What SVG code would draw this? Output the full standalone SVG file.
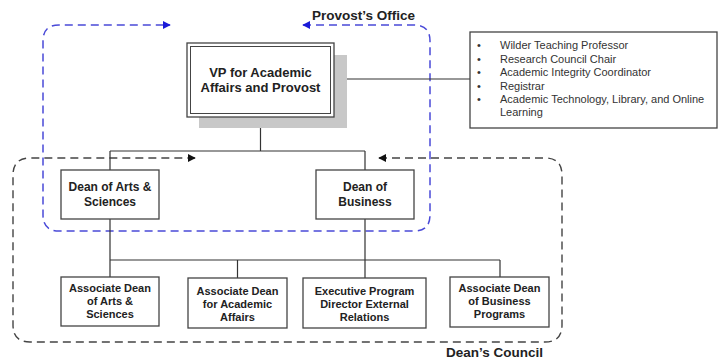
<svg xmlns="http://www.w3.org/2000/svg" width="721" height="360" viewBox="0 0 721 360">
<style>
  .box { fill: #fff; stroke: #444; stroke-width: 1.3; }
  .t { font-family: "Liberation Sans", Arial, sans-serif; font-weight: bold; fill: #222; text-anchor: middle; }
  .lst { font-family: "Liberation Sans", Arial, sans-serif; font-size: 11px; fill: #333; }
  .conn { fill: none; stroke: #333; stroke-width: 1.2; }
  .blue { fill: none; stroke: #4a4ad8; stroke-width: 1.5; stroke-dasharray: 8 5; }
  .black { fill: none; stroke: #444; stroke-width: 1.4; stroke-dasharray: 8 5; }
  .title { font-family: "Liberation Sans", Arial, sans-serif; font-weight: bold; font-size: 13.5px; fill: #222; }
</style>
<defs>
  <marker id="ab" viewBox="0 0 10 10" refX="9" refY="5" markerWidth="8" markerHeight="8" markerUnits="userSpaceOnUse" orient="auto-start-reverse">
    <path d="M0,0 L10,5 L0,10 z" fill="#1a1ad8"/>
  </marker>
  <marker id="ak" viewBox="0 0 10 10" refX="9" refY="5" markerWidth="8" markerHeight="8" markerUnits="userSpaceOnUse" orient="auto-start-reverse">
    <path d="M0,0 L10,5 L0,10 z" fill="#111"/>
  </marker>
</defs>

<g id="provost-office">
  <path class="blue" d="M303,25 H414 Q430,25 430,41 V215 Q430,231 414,231 H59 Q43,231 43,215 V41 Q43,25 59,25 H170" marker-start="url(#ab)" marker-end="url(#ab)"/>
  <text class="title" x="312" y="20">Provost’s Office</text>
</g>

<g id="deans-council">
  <path class="black" d="M379,158 H545 Q562,158 562,175 V325 Q562,342 545,342 H30 Q13,342 13,325 V175 Q13,158 30,158 H195" marker-start="url(#ak)" marker-end="url(#ak)"/>
  <text class="title" x="543" y="357" text-anchor="end">Dean’s Council</text>
</g>

<g id="connectors">
  <path class="conn" d="M334,79 H470"/>
  <path class="conn" d="M260.5,117 V151 M110,151 H365 M110,151 V170 M365,151 V170"/>
  <path class="conn" d="M110,219 V277 M365,219 V278 M110,260 H500 M237.5,260 V278 M500,260 V277"/>
</g>

<g id="vp">
  <rect x="199" y="55" width="148" height="73" fill="#c8c8c8"/>
  <rect class="box" x="187" y="43" width="147" height="74" stroke-width="1.5"/>
  <rect x="190.5" y="46.5" width="140" height="67" fill="none" stroke="#444" stroke-width="1"/>
  <text class="t" font-size="13" x="260.5" y="77">VP for Academic</text>
  <text class="t" font-size="13" x="260.5" y="92">Affairs and Provost</text>
</g>

<g id="staff-list">
  <rect class="box" x="470" y="32" width="247" height="96"/>
  <g class="lst">
    <text x="477" y="49">•</text><text x="500" y="49">Wilder Teaching Professor</text>
    <text x="477" y="62.5">•</text><text x="500" y="62.5">Research Council Chair</text>
    <text x="477" y="76">•</text><text x="500" y="76">Academic Integrity Coordinator</text>
    <text x="477" y="89.5">•</text><text x="500" y="89.5">Registrar</text>
    <text x="477" y="103">•</text><text x="500" y="103">Academic Technology, Library, and Online</text>
    <text x="500" y="116">Learning</text>
  </g>
</g>

<g id="dean-arts">
  <rect class="box" x="61" y="170" width="98" height="49"/>
  <text class="t" font-size="12" x="110" y="191">Dean of Arts &amp;</text>
  <text class="t" font-size="12" x="110" y="206">Sciences</text>
</g>

<g id="dean-business">
  <rect class="box" x="316" y="170" width="98" height="49"/>
  <text class="t" font-size="12" x="365" y="191">Dean of</text>
  <text class="t" font-size="12" x="365" y="206">Business</text>
</g>

<g id="assoc-arts">
  <rect class="box" x="61" y="277" width="98" height="49"/>
  <text class="t" font-size="11" x="110" y="292">Associate Dean</text>
  <text class="t" font-size="11" x="110" y="305">of Arts &amp;</text>
  <text class="t" font-size="11" x="110" y="318">Sciences</text>
</g>

<g id="assoc-academic">
  <rect class="box" x="188" y="278" width="99" height="50"/>
  <text class="t" font-size="11" x="237.5" y="295">Associate Dean</text>
  <text class="t" font-size="11" x="237.5" y="308">for Academic</text>
  <text class="t" font-size="11" x="237.5" y="321">Affairs</text>
</g>

<g id="exec-program">
  <rect class="box" x="303" y="278" width="123" height="50"/>
  <text class="t" font-size="11" x="364.5" y="295">Executive Program</text>
  <text class="t" font-size="11" x="364.5" y="308">Director External</text>
  <text class="t" font-size="11" x="364.5" y="321">Relations</text>
</g>

<g id="assoc-business">
  <rect class="box" x="450" y="277" width="99" height="50"/>
  <text class="t" font-size="11" x="499.5" y="292">Associate Dean</text>
  <text class="t" font-size="11" x="499.5" y="305">of Business</text>
  <text class="t" font-size="11" x="499.5" y="318">Programs</text>
</g>
</svg>
